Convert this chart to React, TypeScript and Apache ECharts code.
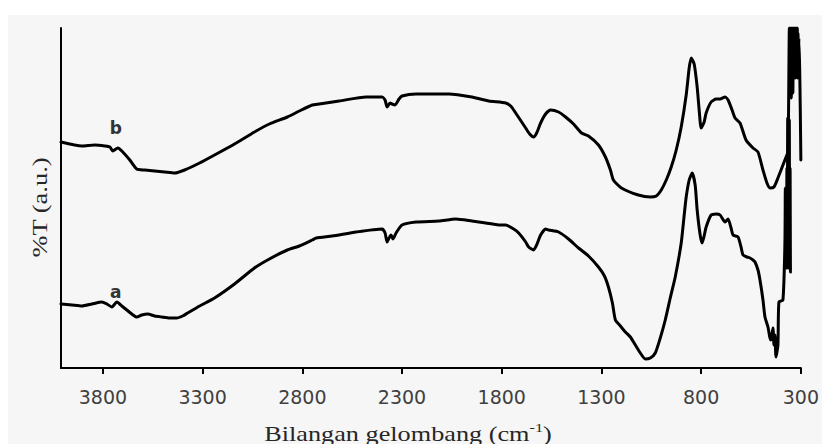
import React, { useEffect, useRef } from "react";
import * as echarts from "echarts";

// Wavenumber axis ticks (cm-1), drawn right-to-left
const tickLabels = [3800, 3300, 2800, 2300, 1800, 1300, 800, 300];

// Spectrum b (upper trace): wavenumber (cm-1) and transmittance (a.u.)
const waveB = [
  4010, 3905, 3840, 3790, 3765, 3750, 3725, 3705, 3665, 3630, 3590, 3540, 3490, 3440, 3390, 3315,
  3240, 3140, 3040, 2965, 2875, 2815, 2750, 2715, 2615, 2480, 2400, 2385, 2375, 2360, 2350, 2335,
  2315, 2300, 2230, 2065, 1950, 1865, 1780, 1755, 1730, 1680, 1660, 1640, 1625, 1605, 1580, 1555,
  1515, 1480, 1440, 1400, 1365, 1315, 1280, 1255, 1240, 1200, 1115, 1055, 1025, 1000, 975, 950,
  925, 900, 875, 860, 850, 835, 820, 810, 800, 785, 775, 750, 725, 705, 680, 665,
  645, 630, 605, 575, 540, 515, 490, 470, 455, 435, 415, 380, 365, 362, 360, 358,
  356, 354, 352, 350, 348, 346, 344, 342, 340, 338, 336, 334, 332, 330, 328, 326,
  324, 322, 320, 318, 316, 314, 312, 310, 306, 303, 300,
];
const transB = [
  226, 222, 223, 222, 221, 217, 220, 217, 208, 199, 198, 197, 196, 195, 198, 205,
  213, 224, 236, 244, 251, 257, 263, 264, 267, 271, 271, 268, 261, 265, 264, 263,
  269, 272, 274, 274, 271, 267, 265, 262, 255, 240, 234, 231, 235, 245, 254, 258,
  256, 251, 244, 235, 232, 223, 211, 198, 188, 180, 173, 171, 172, 178, 188, 201,
  218, 241, 273, 300, 310, 304, 281, 258, 240, 246, 255, 266, 269, 269, 271, 268,
  258, 250, 245, 228, 220, 216, 198, 185, 180, 181, 190, 208, 216, 250, 300, 340,
  280, 340, 300, 340, 270, 340, 300, 340, 275, 340, 295, 340, 300, 340, 290, 340,
  298, 340, 300, 340, 290, 335, 300, 330, 300, 260, 208,
];

// Spectrum a (lower trace)
const waveA = [
  4010, 3955, 3905, 3855, 3805, 3780, 3755, 3730, 3705, 3680, 3655, 3630, 3605, 3575, 3540, 3505,
  3465, 3430, 3400, 3375, 3315, 3240, 3140, 3040, 2965, 2875, 2815, 2750, 2730, 2650, 2530, 2400,
  2385, 2375, 2365, 2355, 2345, 2330, 2300, 2230, 2115, 2030, 1950, 1880, 1815, 1780, 1740, 1715,
  1680, 1665, 1640, 1625, 1605, 1580, 1565, 1515, 1465, 1415, 1365, 1315, 1285, 1265, 1245, 1230,
  1205, 1180, 1155, 1130, 1105, 1080, 1055, 1030, 1005, 980, 955, 930, 900, 885, 875, 860,
  845, 830, 820, 805, 795, 785, 775, 750, 725, 705, 680, 665, 650, 640, 615, 600,
  590, 570, 555, 540, 530, 515, 505, 490, 480, 465, 455, 450, 440, 435, 430, 425,
  415, 410, 390, 380, 378, 376, 374, 372, 370, 368, 366, 364, 362, 360, 358, 356,
  354, 352, 350,
];
const transA = [
  64, 63, 62, 64, 66, 64, 61, 66, 62, 58, 54, 51, 53, 54, 52, 51,
  50, 50, 52, 55, 62, 70, 84, 100, 109, 118, 122, 128, 130, 132, 136, 139,
  135, 126, 130, 133, 129, 135, 143, 146, 147, 149, 147, 145, 143, 143, 139, 135,
  126, 121, 118, 123, 133, 139, 138, 136, 129, 120, 112, 101, 92, 81, 65, 48,
  42, 36, 31, 23, 15, 9, 10, 15, 30, 48, 70, 91, 125, 153, 171, 188,
  195, 183, 158, 133, 125, 132, 141, 153, 154, 153, 146, 149, 140, 133, 131, 121,
  113, 111, 110, 108, 106, 98, 88, 68, 51, 41, 30, 28, 40, 23, 33, 11,
  23, 66, 68, 125, 180, 110, 168, 100, 200, 110, 250, 100, 245, 110, 248, 100,
  200, 96, 96,
];

const zip = (w: number[], t: number[]) => w.map((x, i) => [x, t[i]]);

const traceStyle = {
  color: "#000",
  width: 3,
  join: "round" as const,
  cap: "round" as const,
};

const curveTag = (text: string, coord: number[]) => ({
  coord,
  symbol: "circle",
  symbolSize: 0,
  label: {
    show: true,
    position: "inside",
    formatter: text,
    color: "#333",
    fontFamily: "DejaVu Sans",
    fontWeight: "bold",
    fontSize: 17,
  },
});

export default function App() {
  const ref = useRef<HTMLDivElement>(null);

  useEffect(() => {
    const chart = echarts.init(ref.current!, null, { renderer: "svg" });
    chart.setOption({
      animation: false,
      backgroundColor: "transparent",
      grid: { left: 61, right: 19, top: 28, bottom: 76, containLabel: false },
      xAxis: {
        type: "value",
        inverse: true,
        min: 300,
        max: 4010,
        axisLine: { show: true, lineStyle: { color: "#000", width: 2 } },
        axisTick: {
          show: true,
          customValues: tickLabels,
          length: 6,
          lineStyle: { color: "#000", width: 2 },
        },
        axisLabel: {
          customValues: tickLabels,
          formatter: (v: number) => String(v),
          color: "#404040",
          fontFamily: "DejaVu Sans",
          fontSize: 19,
          margin: 19,
        },
        splitLine: { show: false },
      },
      yAxis: {
        type: "value",
        min: 0,
        max: 340,
        axisLine: { show: true, lineStyle: { color: "#000", width: 2 } },
        axisTick: { show: false },
        axisLabel: { show: false },
        splitLine: { show: false },
      },
      series: [
        {
          name: "b",
          type: "line",
          data: zip(waveB, transB),
          showSymbol: false,
          symbol: "none",
          smooth: 0.2,
          lineStyle: traceStyle,
          silent: true,
          markPoint: { silent: true, data: [curveTag("b", [3735, 240])] },
        },
        {
          name: "a",
          type: "line",
          data: zip(waveA, transA),
          showSymbol: false,
          symbol: "none",
          smooth: 0.2,
          lineStyle: traceStyle,
          silent: true,
          markPoint: { silent: true, data: [curveTag("a", [3735, 76])] },
        },
      ],
      graphic: [
        {
          type: "text",
          x: 39.5,
          y: 207.5,
          rotation: Math.PI / 2,
          scaleX: 1.26,
          style: {
            text: "%T (a.u.)",
            x: 0,
            y: 0,
            align: "center",
            verticalAlign: "middle",
            fill: "#262626",
            font: '21px "Liberation Serif"',
          },
        },
        {
          type: "text",
          x: 408,
          y: 434,
          scaleX: 1.25,
          style: {
            text: "{m|Bilangan gelombang (cm}{s|-1}{m|)}",
            x: 0,
            y: 0,
            align: "center",
            verticalAlign: "middle",
            rich: {
              m: { fontFamily: "Liberation Serif", fontSize: 21, fill: "#262626" },
              s: {
                fontFamily: "Liberation Serif",
                fontSize: 13,
                fill: "#262626",
                padding: [0, 0, 12, 0],
              },
            },
          },
        },
      ],
    });
    return () => chart.dispose();
  }, []);

  return (
    <div
      style={{
        position: "fixed",
        left: 0,
        top: 0,
        width: 822,
        height: 444,
        background: "#fff",
        overflow: "hidden",
      }}
    >
      <div
        style={{
          position: "absolute",
          left: 8,
          top: 15,
          right: 0,
          bottom: 0,
          background: "#f6f6f6",
        }}
      />
      <div ref={ref} style={{ position: "absolute", left: 0, top: 0, width: 822, height: 444 }} />
    </div>
  );
}
